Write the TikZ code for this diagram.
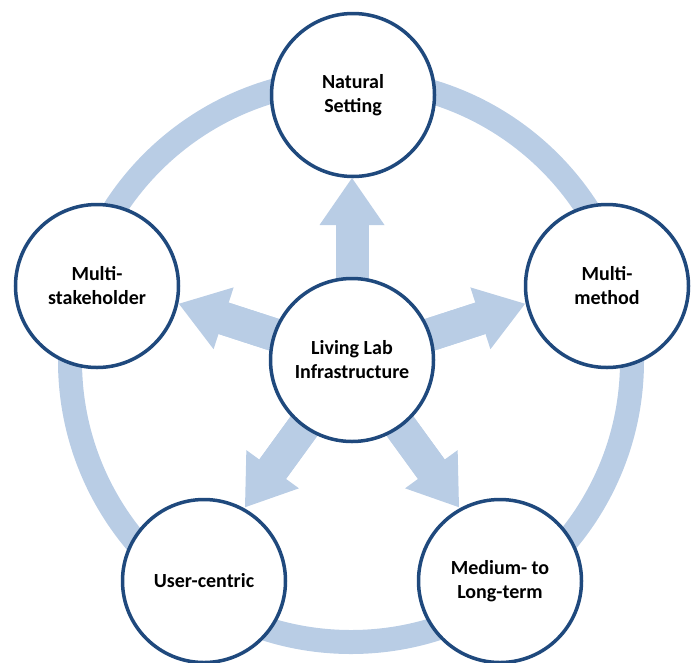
\documentclass[tikz,border=0pt]{standalone}
\usepackage{fontspec}
\setmainfont{Carlito}
\usetikzlibrary{arrows.meta,backgrounds,calc}
\definecolor{ringblue}{HTML}{B9CDE5}
\definecolor{navy}{HTML}{1F497D}
\begin{document}
\begin{tikzpicture}[x=1pt,y=-1pt,
  bubble/.style={circle, draw=navy, line width=3.5pt, fill=white,
    minimum size=163pt, inner sep=0pt, align=center, text=black,
    font=\fontsize{20}{24}\selectfont\bfseries},
  ring/.style={draw=ringblue, line width=24pt},
  blockarrow/.style={draw=ringblue, line width=33pt,
    -{Triangle[length=47pt,width=65pt,line width=0pt]}},
  shaft/.style={draw=ringblue, line width=33pt}]
\useasboundingbox (0,0) rectangle (698,662);

% hub and the five characteristics
\node[bubble] (c)  at (352,360) {Living Lab\\Infrastructure};
\node[bubble] (ns) at (353,95)  {Natural\\Setting};
\node[bubble] (mm) at (607,286) {Multi-\\method};
\node[bubble] (ms) at (97,286)  {Multi-\\stakeholder};
\node[bubble] (uc) at (204,581) {User-centric};
\node[bubble] (ml) at (500,581) {Medium- to\\Long-term};

% arrow tips, evenly spread around the hub
\path (c.center) ++(90:182pt)  coordinate (tns);
\path (c.center) ++(18:182pt)  coordinate (tmm);
\path (c.center) ++(162:182pt) coordinate (tms);
\path (c.center) ++(234:182pt) coordinate (tuc);
\path (c.center) ++(306:182pt) coordinate (tml);

\begin{pgfonlayer}{background}
  \coordinate (hub) at (351,361);
  \draw[ring] (hub) circle[radius=281pt];
  \foreach \t in {tns,tmm,tms,tuc,tml}{
    \draw[blockarrow] (c.center) -- (\t);
    % shaft reaching a little into the head, so no seam shows
    \draw[shaft] (c.center) -- ($(c.center)!150pt!(\t)$);
  }
\end{pgfonlayer}
\end{tikzpicture}
\end{document}
